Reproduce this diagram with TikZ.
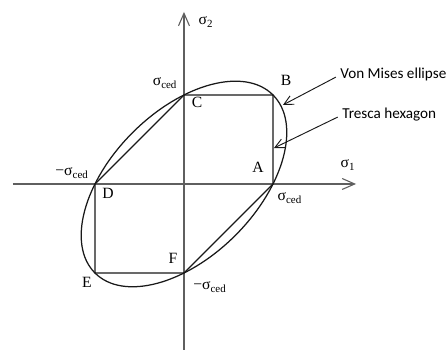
\documentclass[tikz,border=0pt]{standalone}
\usepackage{fontspec}
\setmainfont{Liberation Serif}
\newfontfamily\notefont{Carlito}
\usetikzlibrary{arrows.meta}
\definecolor{axiscol} {RGB}{95,95,95}
\definecolor{curvecol}{RGB}{25,25,25}
\newcommand{\sced}{σ\textsubscript{ced}}

\begin{document}
\begin{tikzpicture}[x=2cm, y=2cm, font=\fontsize{10}{12}\selectfont,
    axis/.style={axiscol, line width=0.7pt, -{Straight Barb[length=8pt, width=7pt]}},
    curve/.style={curvecol, line width=0.8pt},
    note/.style={font=\notefont\fontsize{9.7}{11}\selectfont, anchor=west, inner sep=0pt},
    pointer/.style={curvecol, line width=0.6pt, -{Straight Barb[length=6pt, width=6pt]}}]

\useasboundingbox (-2.067,-1.854) rectangle (2.966,2.067);

% Axes
\coordinate (xstart) at (-1.921,0);
\coordinate (xend)   at (1.933,0);
\coordinate (ystart) at (0,-1.86);
\coordinate (yend)   at (0,1.933);
\draw[axis] (xstart) -- (xend);
\draw[axis] (ystart) -- (yend);
\node (s1) at (1.843,0.213) {σ\textsubscript{1}};
\node (s2) at (0.247,1.820) {σ\textsubscript{2}};

% ================================================================
% VON MISES ELLIPSE
% ================================================================
\draw[curve, rotate=45] (0,0) ellipse ({sqrt(2)} and {sqrt(2/3)});

% ================================================================
% TRESCA HEXAGON
% ================================================================
\coordinate (A) at (1,0);
\coordinate (B) at (1,1);
\coordinate (C) at (0,1);
\coordinate (D) at (-1,0);
\coordinate (E) at (-1,-1);
\coordinate (F) at (0,-1);
\draw[curve] (A) -- (B) -- (C) -- (D) -- (E) -- (F) -- cycle;

% Vertex labels
\node (lA) at (0.831,0.191)   {A};
\node (lB) at (1.146,1.169)   {B};
\node (lC) at (0.146,0.921)   {C};
\node (lD) at (-0.854,-0.101) {D};
\node (lE) at (-1.090,-1.100) {E};
\node (lF) at (-0.124,-0.831) {F};

% Yield values
\node (yA) at (1.190,-0.157)  {\sced};
\node (yC) at (-0.213,1.135)  {\sced};
\node (yD) at (-1.258,0.124)  {−\sced};
\node (yF) at (0.292,-1.157)  {−\sced};

% ================================================================
% CALLOUTS
% ================================================================
\node[note] (vm) at (1.753,1.225) {Von Mises ellipse};
\node[note] (tr) at (1.775,0.775) {Tresca hexagon};
\coordinate (vmtip) at (1.112,0.888);
\coordinate (trtip) at (1.011,0.404);
\draw[pointer, shorten <=3pt] (vm.west) -- (vmtip);
\draw[pointer, shorten <=3pt] (tr.west) -- (trtip);

\end{tikzpicture}
\end{document}
